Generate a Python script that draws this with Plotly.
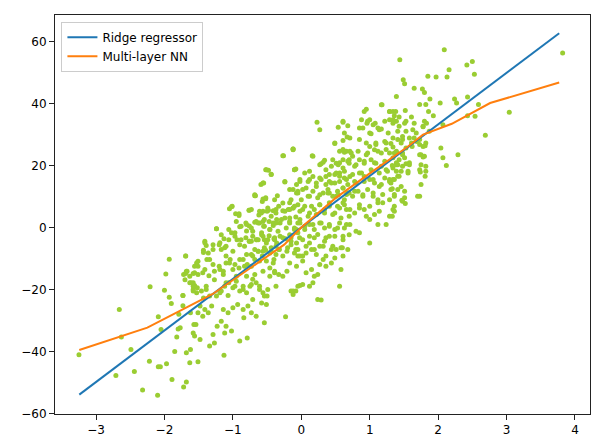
import plotly.graph_objects as go

# ---- data ----
ridge_x = [-3.245, 3.77]
ridge_y = [-53.9, 62.7]

mlp_x = [-3.245, -2.25, -1.3, -0.25, 0.0, 0.5, 1.0, 1.55, 1.78, 2.2, 2.76, 3.77]
mlp_y = [-39.5, -32.3, -21.5, -5.5, 0.0, 9.5, 17.5, 26.0, 30.0, 33.5, 40.2, 46.8]

# scatter samples, grouped by region (x, y)
pts_far_left = [
    (-3.25, -41.0), (-2.66, -26.4), (-2.63, -35.3), (-2.71, -47.7), (-2.49, -39.3),
    (-2.44, -46.4), (-2.32, -52.4), (-2.21, -19.1), (-2.22, -43.1), (-2.10, -54.1),
    (-2.09, -44.9), (-2.06, -44.9), (-2.05, -32.9), (-2.09, -28.8), (-2.00, -20.2),
    (-1.98, -15.0), (-1.93, -10.2), (-1.93, -22.5), (-1.90, -24.5), (-1.97, -43.9),
    (-1.89, -49.0), (-1.85, -40.0), (-1.82, -35.3), (-1.80, -32.7), (-1.77, -32.3),
    (-1.79, -28.0), (-1.68, -49.8), (-1.72, -51.4), (-1.68, -40.4), (-1.63, -43.6),
    (-1.62, -39.3), (-1.69, -9.2), (-1.73, -21.9), (-1.73, -25.2), (-1.62, -27.5),
    (-1.57, -31.3), (-1.56, -35.0), (-1.51, -43.3), (-1.72, -15.1), (-1.69, -14.8),
    (-1.67, -14.1), (-1.63, -15.7), (-1.58, -14.8), (-1.61, -17.8), (-1.56, -18.7),
    (-1.52, -19.4), (-1.58, -20.0), (-1.53, -11.4), (-1.51, -10.9), (-1.13, -41.2),
]

pts_left_mid = [
    (-0.26, 23.2), (-0.12, 25.4), (-0.52, 18.7), (-0.48, 18.5), (-0.44, 17.2),
    (-0.10, 18.7), (-0.24, 14.7), (-0.59, 13.9), (-0.55, 14.4), (-0.68, 10.3),
    (-0.52, 9.3), (-0.57, 8.4), (-0.35, 10.3), (-0.07, 11.2), (-0.17, 8.0),
    (-1.01, 6.9), (-1.05, 6.1), (-0.96, 4.5), (-0.91, 3.9), (-0.76, 5.6),
    (-0.62, 4.1), (-0.56, 5.3), (-0.48, 5.6), (-0.41, 5.4), (-0.33, 6.9),
    (-0.27, 5.4), (-0.19, 5.8), (-0.12, 6.3), (-0.05, 7.4), (-1.24, -0.4),
    (-1.13, -3.6), (-0.95, 2.0), (-0.90, 0.3), (-0.81, 1.5), (-0.80, -1.1),
    (-0.76, 0.5), (-0.68, 1.7), (-0.61, 1.5), (-0.55, 0.4), (-0.47, 2.0),
    (-0.41, 0.7), (-0.36, 2.6), (-0.31, 1.5), (-0.24, 3.1), (-0.17, 2.0),
    (-0.08, 3.4), (-0.05, 1.5), (-1.41, -4.4), (-1.39, -5.8), (-1.43, -8.0),
    (-1.38, -10.3), (-1.29, -7.1), (-1.20, -5.5), (-1.17, -7.1), (-1.10, -6.0),
    (-1.06, -3.9), (-1.02, -1.7), (-0.97, -2.8), (-0.94, -3.9), (-0.88, -3.9),
    (-0.81, -3.3), (-0.76, -4.4), (-0.71, -2.8), (-0.65, -3.9), (-0.58, -2.3),
    (-0.54, -3.9), (-0.47, -2.6), (-0.40, -3.6), (-0.36, -5.0), (-0.31, -2.8),
    (-0.23, -3.6), (-0.17, -2.3), (-0.10, -0.6), (-0.05, -1.7),
]

pts_left_low = [
    (-1.56, -14.6), (-1.51, -12.5), (-1.44, -14.6), (-1.35, -15.5), (-1.27, -14.1),
    (-1.20, -12.5), (-1.14, -14.1), (-1.10, -11.4), (-1.04, -10.3), (-0.97, -11.9),
    (-0.91, -13.0), (-0.85, -10.3), (-0.79, -11.9), (-0.73, -8.7), (-0.68, -10.3),
    (-0.63, -7.6), (-0.57, -9.2), (-0.52, -7.3), (-0.46, -8.2), (-0.40, -10.3),
    (-0.37, -8.7), (-0.33, -7.1), (-0.27, -9.2), (-0.21, -7.6), (-0.15, -5.5),
    (-0.08, -7.1), (-0.05, -9.2), (-0.46, -13.0), (-0.39, -14.1), (-0.33, -15.1),
    (-0.27, -15.7), (-0.21, -14.1), (-0.15, -20.5), (-0.08, -20.5), (-0.05, -18.9),
    (-1.63, -17.8), (-1.58, -18.9), (-1.53, -21.0), (-1.46, -20.5), (-1.39, -18.9),
    (-1.34, -22.1), (-1.43, -22.7), (-1.48, -25.3), (-1.41, -26.4), (-1.51, -27.5),
    (-1.44, -28.6), (-1.36, -27.5), (-1.31, -25.3), (-1.24, -22.1), (-1.17, -20.5),
    (-1.12, -18.9), (-1.06, -17.8), (-1.00, -19.4), (-0.95, -17.3), (-0.90, -20.5),
    (-0.85, -18.9), (-0.80, -21.0), (-0.75, -18.9), (-0.71, -16.7), (-0.66, -17.8),
    (-0.61, -20.0), (-0.56, -21.0), (-0.50, -22.1), (-0.58, -24.3), (-0.51, -24.8),
    (-0.71, -23.2), (-0.78, -25.3), (-0.85, -26.4), (-0.93, -24.8), (-1.00, -25.9),
    (-1.07, -27.5), (-1.14, -26.4), (-1.17, -30.2), (-1.10, -31.8), (-1.12, -34.0),
    (-1.02, -33.4), (-1.23, -31.8), (-1.29, -34.5), (-1.27, -37.2), (-1.34, -38.2),
    (-1.48, -36.1), (-1.58, -34.0), (-1.54, -31.3), (-0.90, -36.6), (-0.79, -35.6),
    (-0.84, -29.1), (-0.73, -27.5), (-0.66, -28.6), (-0.54, -30.7), (-0.23, -28.8),
]

pts_left_core = [
    (-0.67, 10.3), (-0.56, 9.2), (-1.02, 6.7), (-0.91, 4.5), (-0.765, 5.6),
    (-0.585, 4.7), (-0.50, 5.3), (-0.44, 3.7), (-0.56, 2.0), (-0.37, 5.8),
    (-1.24, -0.4), (-1.17, -2.3), (-1.06, -0.6), (-0.97, -1.7), (-0.88, 0.4),
    (-0.80, 1.0), (-0.73, -0.1), (-0.63, 1.5), (-0.54, 0.4), (-0.46, -0.6),
    (-0.37, 1.5), (-1.29, -5.5), (-1.19, -4.9), (-1.12, -6.5), (-1.41, -4.9),
    (-1.43, -7.3), (-1.36, -8.2), (-1.34, -10.3), (-1.10, -9.2), (-1.00, -7.6),
    (-0.90, -5.5), (-0.83, -6.0), (-0.73, -4.4), (-0.66, -3.9), (-0.56, -2.8),
    (-0.49, -3.9), (-0.39, -3.3), (-0.90, -10.3), (-0.80, -8.7), (-0.71, -9.2),
    (-0.63, -7.6), (-0.54, -6.5), (-0.44, -7.6), (-0.37, -6.0), (-1.69, -9.2),
    (-1.56, -12.5), (-1.68, -14.1), (-1.51, -15.1), (-1.58, -17.8), (-1.70, -16.8),
    (-1.41, -13.5), (-1.29, -11.9), (-1.19, -13.5), (-1.27, -16.8), (-1.14, -15.1),
    (-1.05, -11.4), (-1.00, -13.5), (-0.95, -15.7), (-0.83, -12.5), (-0.73, -12.5),
    (-0.61, -10.8), (-0.51, -10.8), (-0.41, -11.4), (-0.80, -15.7), (-0.68, -15.1),
    (-0.56, -14.1), (-0.46, -15.7), (-0.39, -14.6), (-1.10, -17.8), (-0.97, -18.9),
    (-1.39, -20.0), (-1.58, -20.5), (-1.19, -21.0), (-1.73, -21.9), (-0.85, -20.0),
    (-0.73, -18.4), (-0.61, -18.9), (-0.49, -20.0), (-0.37, -18.9), (-0.54, -22.1),
    (-1.07, -21.9),
]

pts_mid_core = [
    (-0.27, 23.2), (-0.12, 25.1), (0.16, 23.2), (0.66, 24.6), (-0.51, 18.7),
    (-0.44, 17.1), (-0.08, 18.9), (0.12, 18.2), (0.29, 20.6), (0.34, 21.7),
    (0.51, 20.8), (0.61, 19.2), (0.70, 21.9), (-0.56, 14.4), (-0.52, 9.6),
    (-0.68, 10.6), (-0.24, 14.9), (-0.02, 14.9), (0.12, 15.5), (0.27, 16.0),
    (0.41, 17.1), (0.56, 16.6), (0.66, 15.5), (-0.17, 12.3), (-0.05, 11.7),
    (0.07, 12.8), (0.22, 13.3), (0.36, 13.9), (0.49, 14.4), (0.61, 12.8),
    (0.70, 11.2), (-0.39, 9.0), (-0.27, 7.9), (-0.15, 9.0), (0.00, 9.0),
    (0.12, 10.1), (0.27, 10.6), (0.39, 11.2), (0.51, 10.1), (0.63, 9.0),
    (-0.73, 5.8), (-0.61, 5.3), (-0.49, 6.3), (-0.37, 4.7), (-0.24, 5.3),
    (-0.12, 6.3), (0.02, 5.8), (0.15, 6.9), (0.27, 7.4), (0.41, 8.0),
    (0.53, 6.9), (0.66, 5.8), (-0.66, 2.0), (-0.54, 2.6), (-0.41, 1.5),
    (-0.29, 2.6), (-0.17, 3.1), (-0.02, 2.6), (0.10, 3.7), (0.22, 4.2),
    (0.34, 4.7), (0.46, 4.2), (0.58, 3.1), (0.70, 3.7), (-0.71, -1.2),
    (-0.58, -1.7), (-0.46, -0.6), (-0.34, -1.2), (-0.22, -0.1), (-0.07, -0.6),
    (0.05, 0.4), (0.17, 1.0), (0.29, 1.5), (0.41, 0.4), (0.53, -0.1),
    (0.66, 1.0), (-0.76, -4.4), (-0.63, -3.9), (-0.51, -5.0), (-0.39, -3.9),
    (-0.27, -3.3), (-0.15, -4.4), (-0.025, -3.3), (0.12, -2.8), (0.24, -2.2),
    (0.36, -3.3), (0.49, -2.8), (0.61, -3.9), (0.70, -2.3), (-0.68, -7.1),
    (-0.56, -7.6), (-0.44, -6.5), (-0.32, -7.1), (-0.20, -6.5), (-0.05, -7.1),
    (0.07, -6.0), (0.19, -7.1), (0.32, -6.0), (0.44, -7.1), (0.58, -6.5),
    (0.68, -7.1), (0.02, -9.2), (0.36, -9.2), (0.61, -9.2),
]

pts_right_core = [
    (1.17, 39.6), (1.36, 36.1), (0.61, 34.3), (0.97, 34.3), (1.05, 33.2),
    (1.22, 34.3), (1.34, 33.7), (1.53, 34.3), (1.65, 33.7), (1.78, 32.7),
    (1.87, 31.1), (1.00, 30.5), (1.14, 31.6), (1.27, 30.5), (1.41, 31.1),
    (1.68, 30.5), (0.49, 27.3), (0.71, 28.9), (0.85, 28.4), (0.95, 27.3),
    (1.09, 26.8), (1.22, 27.8), (1.34, 28.9), (1.48, 28.4), (1.61, 27.3),
    (1.73, 28.4), (1.82, 27.3), (0.61, 25.2), (0.73, 24.1), (0.83, 24.6),
    (0.97, 24.1), (1.12, 24.6), (1.24, 25.2), (1.36, 24.1), (1.48, 24.1),
    (1.73, 23.5), (1.80, 23.0), (0.46, 21.9), (0.56, 20.9), (0.68, 21.4),
    (0.80, 20.3), (0.92, 21.4), (1.07, 20.9), (1.22, 21.4), (1.39, 20.9),
    (1.58, 20.3), (1.75, 20.3), (0.51, 17.6), (0.63, 18.2), (0.75, 17.1),
    (0.88, 17.6), (1.02, 18.7), (1.14, 17.6), (1.26, 18.2), (1.43, 16.6),
    (1.56, 17.6), (1.73, 18.7), (1.82, 18.2), (0.44, 14.4), (0.56, 14.9),
    (0.68, 13.9), (0.80, 14.4), (0.92, 14.9), (1.05, 15.5), (1.17, 13.9),
    (1.31, 14.4), (1.46, 13.3), (1.75, 13.9), (0.41, 11.2), (0.53, 11.7),
    (0.66, 10.7), (0.78, 11.7), (0.90, 10.1), (1.05, 11.2), (1.19, 10.7),
    (1.36, 10.7), (1.51, 9.6), (1.70, 10.1), (0.61, 8.0), (0.85, 7.4),
    (1.12, 8.0), (1.36, 6.9), (1.48, 8.5),
]

pts_center_high = [
    (0.23, 34.0), (0.27, 31.6), (0.61, 34.0), (0.68, 32.9), (0.54, 32.4),
    (0.92, 37.5), (0.88, 34.8), (0.96, 33.7), (1.00, 34.8), (1.08, 33.7),
    (1.12, 32.1), (0.85, 32.1), (0.90, 32.1), (1.29, 34.8), (1.36, 34.3),
    (1.29, 37.5), (1.38, 37.5), (-0.12, 25.4), (0.17, 23.0), (0.49, 27.1),
    (0.63, 30.5), (0.61, 28.1), (0.67, 29.2), (1.02, 30.3), (1.17, 31.8),
    (1.24, 27.3), (1.34, 26.0), (1.09, 27.3), (1.00, 26.2), (1.07, 25.1),
    (1.17, 24.1), (1.29, 24.1), (1.39, 24.6), (0.32, 21.1), (0.27, 20.3),
    (0.36, 18.7), (0.44, 19.8), (0.56, 24.6), (0.63, 24.3), (0.71, 24.6),
    (0.75, 23.0), (0.85, 21.9), (0.92, 20.8), (0.61, 21.9), (0.54, 20.3),
    (0.70, 20.8), (0.78, 19.8), (0.95, 23.5), (1.02, 21.9), (1.09, 20.8),
    (1.17, 19.8), (1.24, 18.7), (1.34, 19.2), (1.39, 20.3), (-0.10, 18.7),
    (0.05, 17.6), (-0.02, 15.5), (-0.07, 13.9), (0.10, 14.9), (0.17, 16.5),
    (0.22, 14.4), (0.29, 15.5), (0.36, 16.5), (0.41, 14.9), (0.49, 17.1),
    (0.56, 17.6), (0.63, 16.0), (0.71, 16.5), (0.78, 14.9), (0.85, 17.6),
    (0.92, 16.5), (1.00, 15.5), (1.07, 14.4), (1.14, 13.3), (1.22, 16.0),
    (1.29, 14.9), (1.36, 15.5), (1.41, 12.3), (-0.12, 12.3), (-0.05, 11.2),
    (0.02, 12.3), (0.10, 10.1), (0.17, 11.7), (0.24, 9.6), (0.32, 11.2),
    (0.39, 12.3), (0.46, 10.1), (0.54, 10.6), (0.61, 12.8), (0.68, 11.2),
    (0.75, 10.1), (0.83, 11.7), (0.90, 10.6), (0.97, 12.3), (1.05, 10.1),
    (1.12, 9.0), (1.19, 8.0), (1.29, 9.0), (1.36, 10.1), (1.31, 12.3),
    (0.95, 38.2), (1.18, 39.6),
]

pts_center_low = [
    (-0.17, 5.8), (-0.10, 6.9), (-0.02, 5.3), (0.05, 6.9), (0.12, 4.7),
    (0.19, 5.8), (0.27, 7.4), (0.34, 5.8), (0.41, 6.9), (0.49, 4.7),
    (0.56, 6.3), (0.63, 7.4), (0.71, 5.8), (0.78, 4.7), (0.85, 6.3),
    (0.92, 5.8), (1.00, 6.9), (1.07, 4.2), (1.14, 5.3), (1.00, 2.6),
    (0.95, 3.7), (1.29, 3.7), (1.34, 5.8), (1.12, 1.0), (1.24, 1.0),
    (-0.17, 1.5), (-0.10, -0.1), (-0.02, 1.5), (0.05, -0.6), (0.12, 1.0),
    (0.19, -0.6), (0.27, 1.5), (0.34, -0.1), (0.41, 1.0), (0.49, -0.6),
    (0.56, 1.5), (0.63, -0.1), (0.71, 1.0), (0.80, -1.2), (0.85, -1.7),
    (0.61, -2.8), (-0.15, -3.3), (-0.07, -5.0), (0.02, -3.9), (0.12, -5.0),
    (0.19, -3.3), (0.27, -6.0), (0.34, -4.4), (0.41, -2.8), (0.46, -6.0),
    (0.51, -7.1), (0.60, -6.5), (1.00, -5.0), (-0.10, -8.2), (-0.02, -9.2),
    (0.07, -8.2), (0.15, -7.1), (0.22, -8.7), (0.32, -10.3), (0.27, -11.9),
    (0.36, -12.5), (0.44, -11.4), (0.49, -9.8), (-0.17, -11.4), (-0.07, -12.5),
    (0.02, -10.8), (0.07, -14.6), (0.15, -13.5), (0.19, -15.7), (0.24, -15.1),
    (0.17, -17.8), (0.12, -18.9), (0.02, -18.4), (-0.02, -18.7), (-0.12, -20.5),
    (-0.12, -21.6), (0.56, -18.9), (0.24, -23.2), (0.29, -23.4), (0.58, -13.5),
]

pts_right = [
    (2.09, 57.4), (1.44, 54.2), (2.50, 53.6), (2.42, 52.5), (2.16, 50.9),
    (2.53, 49.5), (1.85, 48.8), (1.97, 48.6), (2.13, 48.6), (1.49, 47.7),
    (1.51, 46.4), (1.65, 45.0), (1.77, 44.7), (1.80, 43.6), (1.39, 42.3),
    (1.88, 41.5), (2.24, 41.5), (2.27, 40.2), (2.03, 40.2), (1.73, 39.7),
    (1.82, 39.7), (2.43, 42.1), (2.59, 39.7), (1.29, 37.5), (1.34, 37.5),
    (1.52, 37.8), (1.86, 37.5), (1.93, 36.1), (1.61, 35.7), (1.43, 35.7),
    (1.39, 34.3), (1.34, 34.8), (1.51, 33.7), (1.43, 32.7), (1.80, 34.3),
    (1.83, 33.7), (1.78, 32.5), (2.07, 33.2), (2.43, 36.1), (2.54, 35.9),
    (1.63, 31.6), (1.53, 31.1), (1.48, 29.4), (1.41, 28.4), (1.46, 27.3),
    (1.31, 27.1), (1.58, 28.9), (1.65, 28.9), (1.69, 27.8), (1.73, 26.8),
    (1.78, 26.2), (1.81, 26.4), (1.62, 26.2), (1.53, 25.7), (1.48, 23.5),
    (1.39, 24.1), (1.34, 22.5), (1.43, 21.9), (1.51, 22.5), (1.58, 20.9),
    (1.33, 20.0), (1.41, 20.3), (1.48, 19.8), (1.53, 20.6), (1.39, 18.2),
    (1.46, 18.2), (1.56, 18.2), (1.41, 16.6), (1.34, 15.5), (1.75, 23.5),
    (1.78, 22.8), (1.82, 19.8), (2.04, 25.7), (2.07, 22.5), (2.12, 20.0),
    (2.29, 23.5), (1.74, 17.9), (1.81, 16.6), (1.51, 11.7), (1.33, 12.5),
    (1.73, 10.1), (1.47, 8.8), (1.52, 7.8), (1.36, 5.3), (1.33, 3.7),
    (2.69, 29.8), (1.29, 15.5), (3.82, 56.3), (3.04, 37.2),
]

all_pts = (pts_far_left + pts_left_mid + pts_left_low + pts_left_core + pts_mid_core
           + pts_right_core + pts_center_high + pts_center_low + pts_right)
scatter_x = [p[0] for p in all_pts]
scatter_y = [p[1] for p in all_pts]

x_ticks = [-3, -2, -1, 0, 1, 2, 3, 4]
y_ticks = [-60, -40, -20, 0, 20, 40, 60]

FONT = "DejaVu Sans, sans-serif"

fig = go.Figure()
fig.add_trace(go.Scatter(
    x=scatter_x, y=scatter_y, mode="markers",
    marker=dict(color="#9acd32", size=5, line=dict(width=0)),
    showlegend=False, hoverinfo="skip", cliponaxis=False,
))
fig.add_trace(go.Scatter(
    x=ridge_x, y=ridge_y, mode="lines", name="Ridge regressor",
    line=dict(color="#1f77b4", width=2),
))
fig.add_trace(go.Scatter(
    x=mlp_x, y=mlp_y, mode="lines", name="Multi-layer NN",
    line=dict(color="#ff7f0e", width=2),
))

axis_common = dict(
    showgrid=False, zeroline=False, showline=True, linecolor="#222222", linewidth=1,
    mirror=True, ticks="outside", ticklen=5, tickcolor="#222222", tickwidth=1,
    tickfont=dict(family=FONT, size=12, color="black"),
)
fig.update_xaxes(range=[-3.60, 4.22], tickvals=x_ticks, **axis_common)
fig.update_yaxes(range=[-60.15, 68.6], tickvals=y_ticks, **axis_common)

fig.update_layout(
    width=593, height=448,
    margin=dict(l=55, r=3, t=15, b=34),
    paper_bgcolor="white", plot_bgcolor="white",
    font=dict(family=FONT, size=12, color="black"),
    legend=dict(
        x=0.012, y=0.983, xanchor="left", yanchor="top",
        bgcolor="rgba(255,255,255,0.8)", bordercolor="#cccccc", borderwidth=1,
        font=dict(family=FONT, size=12, color="black"),
        tracegroupgap=0, itemwidth=30,
    ),
)

fig.write_html(
    "out.html",
    config={"displayModeBar": False},
    post_script="document.body.style.margin='0';document.body.style.padding='0';",
)
